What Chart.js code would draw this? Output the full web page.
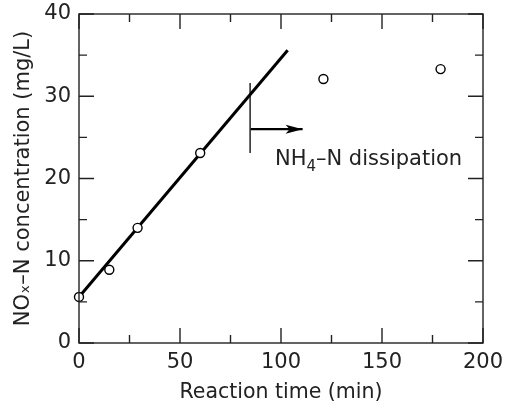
<!DOCTYPE html>
<html>
<head>
<meta charset="utf-8">
<script src="https://cdn.jsdelivr.net/npm/chart.js@4.4.1/dist/chart.umd.min.js"></script>
<style>
  html, body { margin: 0; padding: 0; background: #fff; }
  #wrap { width: 518px; height: 405px; position: relative; }
</style>
</head>
<body>
<div id="wrap"><canvas id="c" width="518" height="405"></canvas></div>
<script>
// ---- data ----
const timeMin  = [0, 15, 29, 60, 121, 179];
const noxConc  = [5.6, 8.9, 14.0, 23.1, 32.1, 33.3];
const fitTime  = [0, 103.3];
const fitConc  = [5.6, 35.6];
const markerTime = [84.7, 84.7];
const markerConc = [23.1, 31.6];
const arrowTime  = [85, 110.7];
const arrowConc  = [26.0, 26.0];
const labelTime = 97;
const labelConc = 21.6;
const xTicks = [0, 50, 100, 150, 200];
const yTicks = [0, 10, 20, 30, 40];
const xMinor = [25, 75, 125, 175];
const yMinor = [5, 15, 25, 35];

const INK = '#222';
const FONT = 'DejaVu Sans';

const framePlugin = {
  id: 'frameTicks',
  afterDatasetsDraw(chart) {
    const ctx = chart.ctx;
    const a = chart.chartArea;
    const xs = chart.scales.x, ys = chart.scales.y;
    ctx.save();
    ctx.strokeStyle = INK;
    ctx.lineWidth = 1.4;
    ctx.strokeRect(a.left, a.top, a.right - a.left, a.bottom - a.top);
    const major = 15, minor = 8;
    ctx.beginPath();
    xTicks.forEach(v => {
      const px = xs.getPixelForValue(v);
      ctx.moveTo(px, a.bottom); ctx.lineTo(px, a.bottom - major);
      ctx.moveTo(px, a.top); ctx.lineTo(px, a.top + major);
    });
    xMinor.forEach(v => {
      const px = xs.getPixelForValue(v);
      ctx.moveTo(px, a.bottom); ctx.lineTo(px, a.bottom - minor);
      ctx.moveTo(px, a.top); ctx.lineTo(px, a.top + minor);
    });
    yTicks.forEach(v => {
      const py = ys.getPixelForValue(v);
      ctx.moveTo(a.left, py); ctx.lineTo(a.left + major, py);
      ctx.moveTo(a.right, py); ctx.lineTo(a.right - major, py);
    });
    yMinor.forEach(v => {
      const py = ys.getPixelForValue(v);
      ctx.moveTo(a.left, py); ctx.lineTo(a.left + minor, py);
      ctx.moveTo(a.right, py); ctx.lineTo(a.right - minor, py);
    });
    ctx.stroke();

    // arrow head
    const tipX = xs.getPixelForValue(arrowTime[1]);
    const tipY = ys.getPixelForValue(arrowConc[1]);
    ctx.fillStyle = '#000';
    ctx.beginPath();
    ctx.moveTo(tipX, tipY);
    ctx.lineTo(tipX - 17, tipY - 4.5);
    ctx.lineTo(tipX - 13, tipY);
    ctx.lineTo(tipX - 17, tipY + 4.5);
    ctx.closePath();
    ctx.fill();

    // annotation text with subscript
    let lx = xs.getPixelForValue(labelTime);
    const ly = ys.getPixelForValue(labelConc);
    ctx.fillStyle = INK;
    ctx.textBaseline = 'alphabetic';
    ctx.textAlign = 'left';
    ctx.font = '21px "' + FONT + '"';
    ctx.fillText('NH', lx, ly);
    lx += ctx.measureText('NH').width;
    ctx.font = '15px "' + FONT + '"';
    ctx.fillText('4', lx, ly + 6);
    lx += ctx.measureText('4').width;
    ctx.font = '21px "' + FONT + '"';
    ctx.fillText('\u2013N dissipation', lx, ly);
    ctx.restore();
  }
};

const toXY = (xa, ya) => xa.map((x, i) => ({x: x, y: ya[i]}));

new Chart(document.getElementById('c'), {
  type: 'scatter',
  data: {
    datasets: [
      {
        label: 'NOx-N',
        data: toXY(timeMin, noxConc),
        order: 0,
        showLine: false,
        pointRadius: 4.5,
        pointHoverRadius: 4.5,
        pointBackgroundColor: '#fff',
        pointBorderColor: '#000',
        pointBorderWidth: 1.4,
        clip: false
      },
      {
        label: 'fit',
        data: toXY(fitTime, fitConc),
        order: 1,
        showLine: true,
        borderColor: '#000',
        borderWidth: 3,
        pointRadius: 0,
        clip: false
      },
      {
        label: 'marker',
        data: toXY(markerTime, markerConc),
        order: 2,
        showLine: true,
        borderColor: '#000',
        borderWidth: 1.3,
        pointRadius: 0
      },
      {
        label: 'arrow',
        data: toXY(arrowTime, arrowConc),
        order: 2,
        showLine: true,
        borderColor: '#000',
        borderWidth: 2.2,
        pointRadius: 0
      }
    ]
  },
  options: {
    responsive: false,
    animation: false,
    devicePixelRatio: 1,
    layout: { padding: { top: 14, right: 35, left: 0, bottom: 0 } },
    plugins: { legend: { display: false }, tooltip: { enabled: false } },
    scales: {
      x: {
        type: 'linear', min: 0, max: 200,
        afterFit: s => { s.height = 62; s.paddingLeft = 0; s.paddingRight = 0; },
        afterBuildTicks: s => { s.ticks = xTicks.map(v => ({value: v})); },
        grid: { display: false, drawTicks: false },
        border: { display: false },
        ticks: { color: INK, font: { family: FONT, size: 21 }, padding: 7, maxRotation: 0 },
        title: { display: true, text: 'Reaction time (min)', color: INK,
                 font: { family: FONT, size: 20.5 }, padding: { top: 4, bottom: 0 } }
      },
      y: {
        type: 'linear', min: 0, max: 40,
        afterFit: s => { s.width = 79; s.paddingTop = 0; s.paddingBottom = 0; },
        afterBuildTicks: s => { s.ticks = yTicks.map(v => ({value: v})); },
        grid: { display: false, drawTicks: false },
        border: { display: false },
        ticks: { color: INK, font: { family: FONT, size: 21 }, padding: 8 },
        title: { display: true, text: 'NO\u2093\u2013N concentration (mg/L)', color: INK,
                 font: { family: FONT, size: 21 }, padding: { top: 11, bottom: 0 } }
      }
    }
  },
  plugins: [framePlugin]
});
</script>
</body>
</html>
